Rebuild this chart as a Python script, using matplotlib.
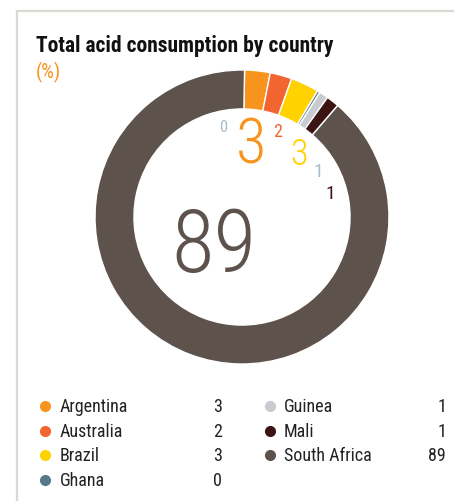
import matplotlib
matplotlib.use("Agg")
import matplotlib.pyplot as plt
from matplotlib.lines import Line2D

countries = ["Argentina", "Australia", "Brazil", "Ghana", "Guinea", "Mali", "South Africa"]
shares = [2.8, 2.4, 3.1, 0.3, 1.0, 1.4, 88.9]      # arc sizes
shown = [3, 2, 3, 0, 1, 1, 89]                      # rounded values printed
colors = ["#f7941d", "#f26531", "#ffd200", "#567a89", "#c8ccd0", "#3d1414", "#5e524d"]
label_colors = ["#f7941d", "#f26531", "#ffd200", "#a9bcc8", "#a9bcc8", "#3d1414", "#5e524d"]

W, H = 454, 502
cond = ["Roboto Condensed", "DejaVu Sans"]

fig = plt.figure(figsize=(W / 100, H / 100), dpi=100)

def px(x, y):
    return x / W, 1 - y / H

# frame lines
fig.add_artist(Line2D([17 / W, 1], [1 - 12 / H] * 2, color="#dcd9d3", lw=1.6))
fig.add_artist(Line2D([17 / W] * 2, [0, 1 - 12 / H], color="#dcd9d3", lw=1.6))

fig.text(*px(36, 52), "Total acid consumption by country", family=cond,
         fontweight="bold", fontsize=15.5, color="#111111", va="baseline")
fig.text(*px(36, 78), "(%)", family=cond, fontsize=14.5,
         color="#f7941d", va="baseline")

# donut
cx, cy, R = 242, 218, 147
ax = fig.add_axes([(cx - R) / W, 1 - (cy + R) / H, 2 * R / W, 2 * R / H])
ax.pie(shares, colors=colors, startangle=89, counterclock=False, radius=1,
       wedgeprops=dict(width=0.265, edgecolor="white", linewidth=1))
ax.set_xlim(-1, 1)
ax.set_ylim(-1, 1)
ax.set_aspect("equal")
ax.axis("off")

# value labels around the top of the ring (pixel positions, size per label)
label_pos = [(251, 146), (278, 132), (299, 155), (223, 128), (318, 172), (330, 194)]
label_size = [45, 13, 26, 12, 14, 14]
for i, (x, y) in enumerate(label_pos):
    weight = "light" if label_size[i] > 20 else "normal"
    fig.text(*px(x, y), str(shown[i]), family=cond, fontweight=weight,
             fontsize=label_size[i], color=label_colors[i], ha="center", va="center")
fig.text(*px(214, 248), str(shown[-1]), family=cond, fontweight="light", fontsize=63,
         color=label_colors[-1], ha="center", va="center")

# legend table
rows_y = [407, 432, 456, 481]
for i, name in enumerate(countries):
    col, row = divmod(i, 4)
    y = rows_y[row]
    dot_x, name_x, val_x = (45, 60, 222) if col == 0 else (270, 284, 446)
    fig.add_artist(Line2D([dot_x / W], [1 - y / H], marker="o", markersize=7,
                          color=colors[i], linestyle="none"))
    fig.text(*px(name_x, y), name, family=cond, fontsize=13, color="#222222", va="center")
    fig.text(*px(val_x, y), str(shown[i]), family=cond, fontsize=13, color="#222222",
             va="center", ha="right")

fig.savefig("out.png", dpi=100)
